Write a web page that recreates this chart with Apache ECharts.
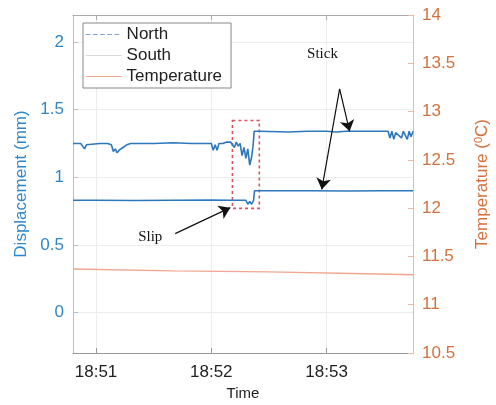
<!DOCTYPE html>
<html><head><meta charset="utf-8">
<script src="https://cdn.jsdelivr.net/npm/echarts@6/dist/echarts.min.js"></script>
<style>html,body{margin:0;padding:0;background:#fff}#c{width:496px;height:405px}</style>
</head><body><div id="c"></div>
<script>
// time in seconds after 18:50:00
const xTicks = [60, 120, 180];
const leftTicks = [0, 0.5, 1, 1.5, 2];
const northTime = [48,52,54,55,56,62,66,68,69,70,71,72,73,74,75,76,78,90,100,110,118,120,121,122,123,124,126,128,130,131,132,133,134,135,136,137,138,139,140,141,141.8,142.3,145,160,170,180,185,190,200,210,212,213,214,215,216,217,219,220,221,222,223,224,225];
const northDisp = [1.25,1.25,1.21,1.24,1.25,1.25,1.25,1.24,1.19,1.21,1.18,1.20,1.19,1.22,1.23,1.24,1.25,1.25,1.255,1.25,1.25,1.25,1.20,1.24,1.20,1.25,1.25,1.26,1.26,1.25,1.22,1.26,1.23,1.25,1.16,1.22,1.14,1.21,1.09,1.15,1.24,1.34,1.34,1.335,1.34,1.34,1.335,1.34,1.34,1.34,1.34,1.29,1.34,1.28,1.33,1.34,1.29,1.34,1.33,1.28,1.34,1.30,1.34];
const southTime = [48,60,80,100,120,130,136,137,138,139,140,141,142,142.5,150,170,190,210,225];
const southDisp = [0.83,0.83,0.828,0.83,0.832,0.83,0.83,0.84,0.83,0.80,0.82,0.80,0.83,0.90,0.90,0.90,0.898,0.90,0.90];
const tempTime = [48,100,150,200,225];
const tempValue = [11.37,11.35,11.34,11.32,11.31];
// annotations (data coordinates)
const slipBox = [[131, 1.42], [145, 0.77]];
const arrows = [[[186.8,1.654],[192.0,1.34]], [[186.8,1.654],[177.5,0.91]], [[101.2,0.583],[129.9,0.775]]];
const labels = [['Stick', 177.9, 1.913], ['Slip', 88.2, 0.561]];

const zip = (a, b) => a.map((t, i) => [t, b[i]]);
const blue = '#2f86c9', lineBlue = '#2d78bd', orange = '#d5703c';
const fmtTime = v => '18:' + (50 + Math.floor(v / 60));

const chart = echarts.init(document.getElementById('c'));
chart.setOption({
  animation: false,
  grid: {left: 73, top: 15, right: 83, bottom: 52, outerBoundsMode: 'none', containLabel: false},
  legend: {
    orient: 'vertical', left: 83, top: 23,
    backgroundColor: '#fff', borderColor: '#888', borderWidth: 1,
    padding: [3, 9, 3, 2], itemGap: 4, itemWidth: 36, itemHeight: 16,
    textStyle: {fontFamily: 'Liberation Sans', fontSize: 17, color: '#222'},
    data: [
      {name: 'North', itemStyle: {opacity: 0}, lineStyle: {type: 'dashed', color: '#7fa6cc', width: 1.2}},
      {name: 'South', itemStyle: {opacity: 0}, lineStyle: {color: '#d8d8d8', width: 1.2}},
      {name: 'Temperature', itemStyle: {opacity: 0}, lineStyle: {color: '#f2a58f', width: 1.2}}
    ]
  },
  xAxis: [{
    type: 'value', min: 48, max: 225, position: 'bottom',
    name: 'Time', nameLocation: 'middle', nameGap: 31,
    nameTextStyle: {fontFamily: 'Liberation Sans', fontSize: 15, color: '#222'},
    axisLine: {onZero: false, lineStyle: {color: '#999'}},
    axisTick: {inside: true, customValues: xTicks, lineStyle: {color: '#999'}},
    axisLabel: {customValues: xTicks, formatter: fmtTime, fontFamily: 'Liberation Sans', fontSize: 17, color: '#222', margin: 11},
    splitLine: {show: true, lineStyle: {color: '#ececec'}}
  }, {
    type: 'value', min: 48, max: 225, position: 'top',
    axisLine: {show: true, onZero: false, lineStyle: {color: '#aaa'}},
    axisTick: {inside: true, customValues: xTicks, lineStyle: {color: '#aaa'}},
    axisLabel: {show: false}, splitLine: {show: false}
  }],
  yAxis: [{
    type: 'value', min: -0.3, max: 2.2, position: 'left',
    name: 'Displacement (mm)', nameLocation: 'middle', nameGap: 40,
    nameTextStyle: {fontFamily: 'Liberation Sans', fontSize: 17, color: blue},
    axisLine: {show: true, onZero: false, lineStyle: {color: '#a9c4dc'}},
    axisTick: {show: true, inside: true, customValues: leftTicks, lineStyle: {color: '#a9c4dc'}},
    axisLabel: {customValues: leftTicks, fontFamily: 'Liberation Sans', fontSize: 17, color: blue, margin: 9},
    splitLine: {show: true, lineStyle: {color: '#ececec'}}
  }, {
    type: 'value', min: 10.5, max: 14, interval: 0.5, position: 'right',
    name: '{a|Temperature (}{s|0}{a|C)}', nameLocation: 'middle', nameGap: 60,
    nameTextStyle: {rich: {
      a: {fontFamily: 'Liberation Sans', fontSize: 17, color: orange},
      s: {fontFamily: 'Liberation Sans', fontSize: 11, color: orange, verticalAlign: 'top', padding: [0,0,8,0]}
    }},
    axisLine: {show: true, onZero: false, lineStyle: {color: '#e9b9a0'}},
    axisTick: {show: true, inside: true, lineStyle: {color: '#e9b9a0'}},
    axisLabel: {fontFamily: 'Liberation Sans', fontSize: 17, color: orange, margin: 9},
    splitLine: {show: false}
  }],
  series: [{
    name: 'North', type: 'line', xAxisIndex: 0, yAxisIndex: 0, showSymbol: false, symbol: 'none',
    data: zip(northTime, northDisp), lineStyle: {color: lineBlue, width: 1.6}, itemStyle: {color: lineBlue}
  }, {
    name: 'South', type: 'line', xAxisIndex: 0, yAxisIndex: 0, showSymbol: false, symbol: 'none',
    data: zip(southTime, southDisp), lineStyle: {color: lineBlue, width: 1.6}, itemStyle: {color: lineBlue},
    markArea: {silent: true, data: [[{coord: slipBox[0]}, {coord: slipBox[1]}]],
      itemStyle: {color: 'rgba(0,0,0,0)', borderColor: '#e0505e', borderWidth: 1.6, borderType: [3, 3]}},
    markLine: {silent: true, symbol: ['none', 'arrow'], symbolSize: 11, label: {show: false},
      itemStyle: {color: '#111'},
      lineStyle: {color: '#111', type: 'solid', width: 1.2},
      data: arrows.map(a => [{coord: a[0]}, {coord: a[1]}])},
    markPoint: {silent: true, symbolSize: 0,
      label: {show: true, position: 'inside', formatter: '{b}', fontFamily: 'Liberation Serif', fontSize: 15, color: '#111'},
      data: labels.map(l => ({name: l[0], coord: [l[1], l[2]]}))}
  }, {
    name: 'Temperature', type: 'line', xAxisIndex: 0, yAxisIndex: 1, showSymbol: false, symbol: 'none',
    data: zip(tempTime, tempValue), lineStyle: {color: '#f2a58f', width: 1.4}, itemStyle: {color: '#f2a58f'}
  }]
});
</script></body></html>
